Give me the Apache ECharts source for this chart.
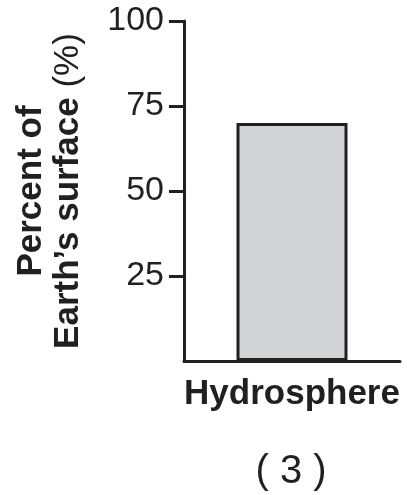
<!DOCTYPE html>
<html>
<head>
<meta charset="utf-8">
<script src="https://cdn.jsdelivr.net/npm/echarts@6/dist/echarts.min.js"></script>
<style>
html,body{margin:0;padding:0;background:#fff;}
#main{width:407px;height:495px;}
</style>
</head>
<body>
<div id="main"></div>
<script>
var categories = ['Hydrosphere'];
var values = [70];
var yTicks = [25, 50, 75, 100];
var panelLabel = '( 3 )';

var FONT = '"Liberation Sans", Arial, Helvetica, sans-serif';
var INK = '#231f20';

var chart = echarts.init(document.getElementById('main'), null, {renderer: 'canvas'});
chart.setOption({
  animation: false,
  backgroundColor: '#ffffff',
  grid: {left: 184, right: 7, top: 21, bottom: 134, containLabel: false},
  xAxis: {
    type: 'category',
    data: categories,
    axisLine: {show: true, lineStyle: {color: INK, width: 3}},
    axisTick: {show: false},
    axisLabel: {
      color: INK, fontFamily: FONT, fontSize: 35, fontWeight: 'bold', margin: 16
    }
  },
  yAxis: {
    type: 'value',
    min: 0, max: 100, interval: 25,
    splitLine: {show: false},
    axisLine: {show: true, lineStyle: {color: INK, width: 3}},
    axisTick: {show: true, customValues: yTicks, length: 15, lineStyle: {color: INK, width: 3}},
    axisLabel: {customValues: yTicks, color: INK, fontFamily: FONT, fontSize: 34, margin: 20},
    name: '{b|Percent of}\n{b|Earth\u2019s surface }{r|(%)}',
    nameLocation: 'middle',
    nameRotate: 90,
    nameGap: 97,
    nameTextStyle: {
      color: INK, fontFamily: FONT, align: 'center',
      rich: {
        b: {fontSize: 35, fontWeight: 'bold', lineHeight: 37, color: INK, fontFamily: FONT},
        r: {fontSize: 35, fontWeight: 'normal', lineHeight: 37, color: INK, fontFamily: FONT}
      }
    }
  },
  series: [{
    type: 'bar',
    data: values,
    barWidth: 111,
    itemStyle: {color: '#d1d3d4', borderColor: INK, borderWidth: 3}
  }],
  graphic: [{
    type: 'text',
    x: 291,
    y: 452,
    style: {text: panelLabel, fontFamily: FONT, fontSize: 40, fill: INK, align: 'center', verticalAlign: 'top'}
  }]
});
</script>
</body>
</html>
